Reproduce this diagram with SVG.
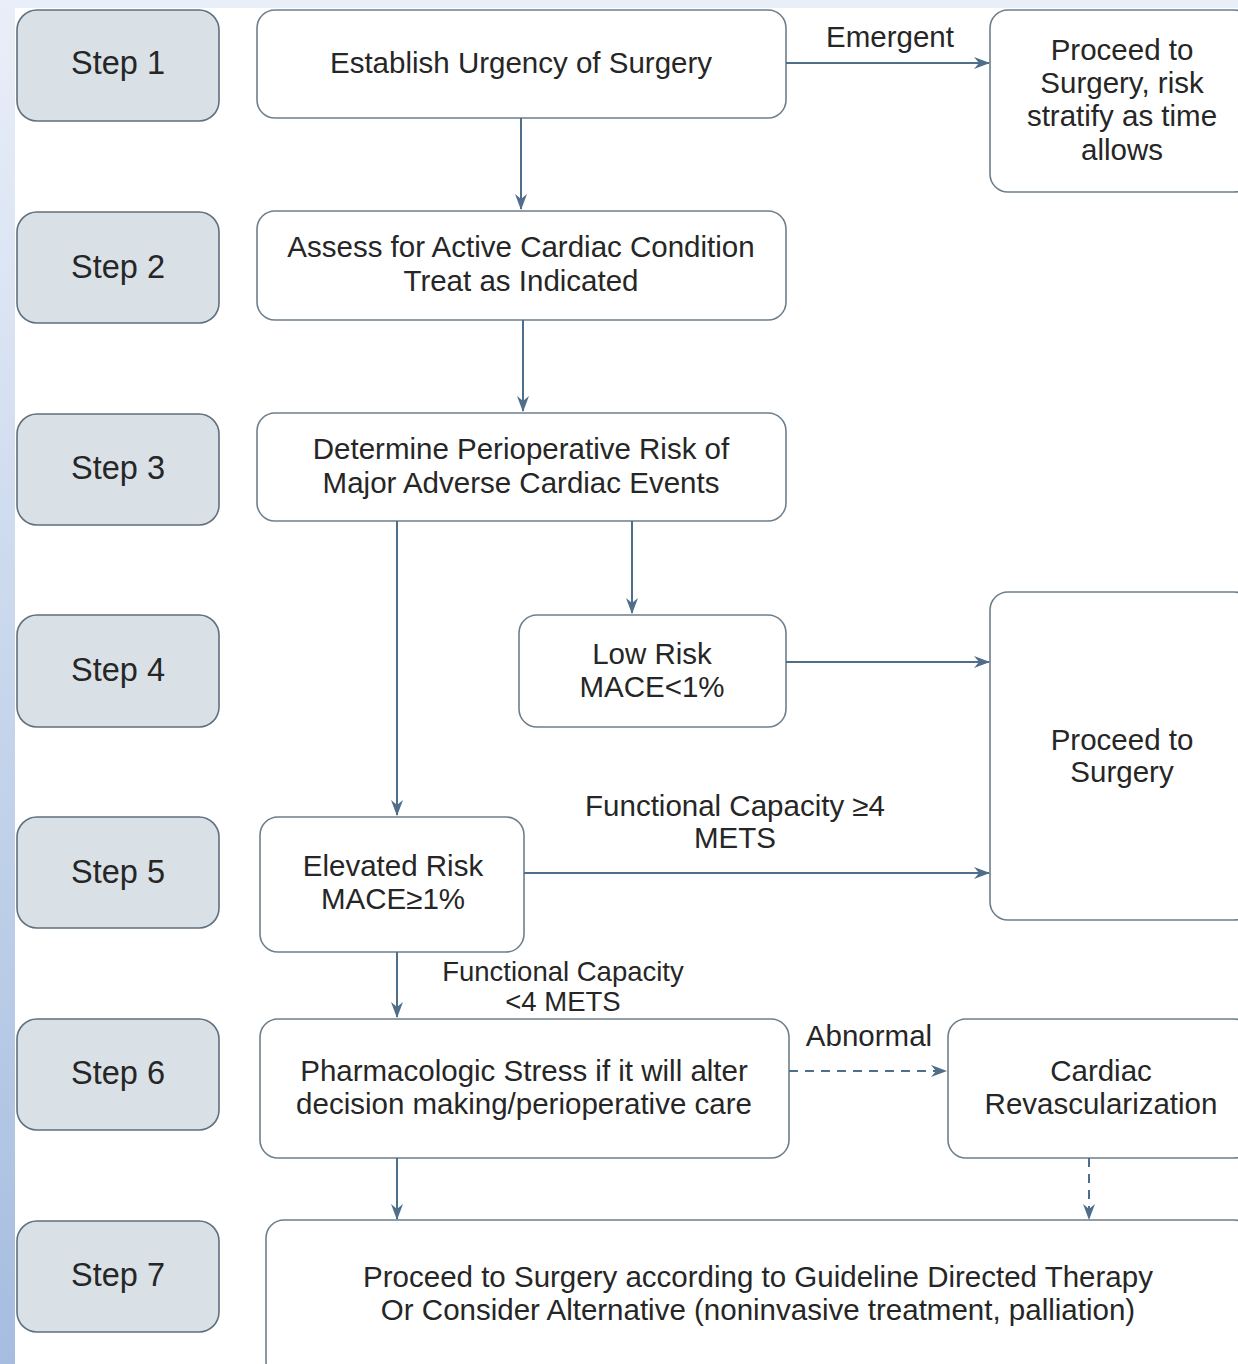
<svg xmlns="http://www.w3.org/2000/svg" width="1238" height="1364" viewBox="0 0 1238 1364">
<defs>
<linearGradient id="side" x1="0" y1="0" x2="0" y2="1">
<stop offset="0" stop-color="#e9eff8"/>
<stop offset="1" stop-color="#a6bde0"/>
</linearGradient>
<marker id="arr" viewBox="0 0 16 12" markerWidth="16" markerHeight="12" refX="15" refY="6" orient="auto" markerUnits="userSpaceOnUse">
<path d="M0,0 L16,6 L0,12 L5,6 z" fill="#4f6e8a"/>
</marker>
</defs>
<style>
.step{fill:#d9e1e7;stroke:#5f707e;stroke-width:1.6}
.box{fill:#ffffff;stroke:#6e7f8c;stroke-width:1.6}
.st{font-family:"Liberation Sans",Arial,sans-serif;font-size:32.5px;fill:#262626;text-anchor:middle}
.t{font-family:"Liberation Sans",Arial,sans-serif;font-size:29.5px;fill:#262626;text-anchor:middle}
.lb{font-family:"Liberation Sans",Arial,sans-serif;font-size:29.5px;fill:#262626;text-anchor:middle}
.lb2{font-family:"Liberation Sans",Arial,sans-serif;font-size:27.5px;fill:#262626;text-anchor:middle}
.c{fill:none;stroke:#4f6e8a;stroke-width:2;marker-end:url(#arr)}
.d{stroke-dasharray:9 7}
</style>
<rect x="0" y="0" width="1238" height="1364" fill="#ffffff"/>
<rect x="0" y="0" width="1238" height="8" fill="#e9eff8"/>
<rect x="0" y="0" width="15" height="1364" fill="url(#side)"/>

<g id="step1"><rect class="step" x="17" y="10" width="202" height="111" rx="20"/><text class="st" x="118" y="74">Step 1</text></g>
<g id="step2"><rect class="step" x="17" y="212" width="202" height="111" rx="20"/><text class="st" x="118" y="278">Step 2</text></g>
<g id="step3"><rect class="step" x="17" y="414" width="202" height="111" rx="20"/><text class="st" x="118" y="479">Step 3</text></g>
<g id="step4"><rect class="step" x="17" y="615" width="202" height="112" rx="20"/><text class="st" x="118" y="681">Step 4</text></g>
<g id="step5"><rect class="step" x="17" y="817" width="202" height="111" rx="20"/><text class="st" x="118" y="883">Step 5</text></g>
<g id="step6"><rect class="step" x="17" y="1019" width="202" height="111" rx="20"/><text class="st" x="118" y="1084">Step 6</text></g>
<g id="step7"><rect class="step" x="17" y="1221" width="202" height="111" rx="20"/><text class="st" x="118" y="1286">Step 7</text></g>

<g id="urgency"><rect class="box" x="257" y="10" width="529" height="108" rx="18"/><text class="t" x="521" y="73">Establish Urgency of Surgery</text></g>
<g id="emergent-proceed"><rect class="box" x="990" y="10" width="262" height="182" rx="18"/>
<text class="t" x="1122" y="60">Proceed to</text><text class="t" x="1122" y="93">Surgery, risk</text><text class="t" x="1122" y="126">stratify as time</text><text class="t" x="1122" y="160">allows</text></g>
<g id="assess"><rect class="box" x="257" y="211" width="529" height="109" rx="18"/><text class="t" x="521" y="257">Assess for Active Cardiac Condition</text><text class="t" x="521" y="291">Treat as Indicated</text></g>
<g id="determine"><rect class="box" x="257" y="413" width="529" height="108" rx="18"/><text class="t" x="521" y="459">Determine Perioperative Risk of</text><text class="t" x="521" y="493">Major Adverse Cardiac Events</text></g>
<g id="lowrisk"><rect class="box" x="519" y="615" width="267" height="112" rx="18"/><text class="t" x="652" y="664">Low Risk</text><text class="t" x="652" y="697">MACE&lt;1%</text></g>
<g id="proceed"><rect class="box" x="990" y="592" width="262" height="328" rx="18"/><text class="t" x="1122" y="750">Proceed to</text><text class="t" x="1122" y="782">Surgery</text></g>
<g id="elevated"><rect class="box" x="260" y="817" width="264" height="135" rx="18"/><text class="t" x="393" y="876">Elevated Risk</text><text class="t" x="393" y="909">MACE≥1%</text></g>
<g id="pharm"><rect class="box" x="260" y="1019" width="529" height="139" rx="18"/><text class="t" x="524" y="1081">Pharmacologic Stress if it will alter</text><text class="t" x="524" y="1114">decision making/perioperative care</text></g>
<g id="revasc"><rect class="box" x="948" y="1019" width="304" height="139" rx="18"/><text class="t" x="1101" y="1081">Cardiac</text><text class="t" x="1101" y="1114">Revascularization</text></g>
<g id="gdt"><rect class="box" x="266" y="1220" width="986" height="160" rx="18"/><text class="t" x="758" y="1287">Proceed to Surgery according to Guideline Directed Therapy</text><text class="t" x="758" y="1320">Or Consider Alternative (noninvasive treatment, palliation)</text></g>

<g id="connectors">
<path class="c" d="M786,63 H989"/>
<path class="c" d="M521,118 V209"/>
<path class="c" d="M523,320 V411"/>
<path class="c" d="M632,521 V613"/>
<path class="c" d="M397,521 V815"/>
<path class="c" d="M786,662 H989"/>
<path class="c" d="M524,873 H989"/>
<path class="c" d="M397,952 V1017"/>
<path class="c d" d="M789,1071 H946"/>
<path class="c" d="M397,1158 V1219"/>
<path class="c d" d="M1089,1158 V1219"/>
<text class="lb" x="890" y="47">Emergent</text>
<text class="lb" x="735" y="816">Functional Capacity ≥4</text>
<text class="lb" x="735" y="848">METS</text>
<text class="lb2" x="563" y="981">Functional Capacity</text>
<text class="lb2" x="563" y="1011">&lt;4 METS</text>
<text class="lb" x="869" y="1046">Abnormal</text>
</g>
</svg>
